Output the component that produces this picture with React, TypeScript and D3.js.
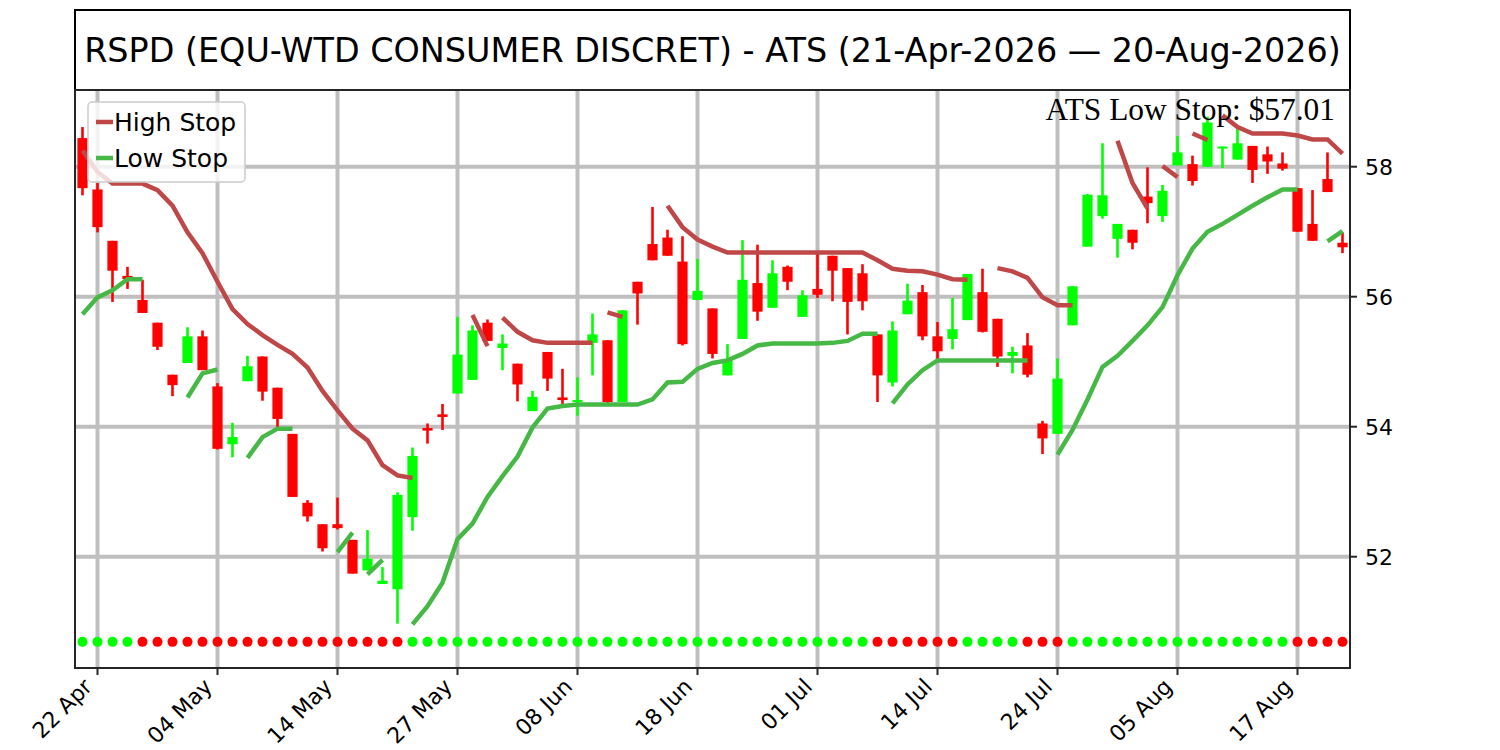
import React from 'react'
import * as d3 from 'd3'

// trading days shown on the chart
const tradingDays = [
  '2026-04-21', '2026-04-22', '2026-04-23', '2026-04-24', '2026-04-27', '2026-04-28', '2026-04-29', '2026-04-30',
  '2026-05-01', '2026-05-04', '2026-05-05', '2026-05-06', '2026-05-07', '2026-05-08', '2026-05-11', '2026-05-12',
  '2026-05-13', '2026-05-14', '2026-05-15', '2026-05-18', '2026-05-19', '2026-05-20', '2026-05-21', '2026-05-22',
  '2026-05-26', '2026-05-27', '2026-05-28', '2026-05-29', '2026-06-01', '2026-06-02', '2026-06-03', '2026-06-04',
  '2026-06-05', '2026-06-08', '2026-06-09', '2026-06-10', '2026-06-11', '2026-06-12', '2026-06-15', '2026-06-16',
  '2026-06-17', '2026-06-18', '2026-06-22', '2026-06-23', '2026-06-24', '2026-06-25', '2026-06-26', '2026-06-29',
  '2026-06-30', '2026-07-01', '2026-07-02', '2026-07-06', '2026-07-07', '2026-07-08', '2026-07-09', '2026-07-10',
  '2026-07-13', '2026-07-14', '2026-07-15', '2026-07-16', '2026-07-17', '2026-07-20', '2026-07-21', '2026-07-22',
  '2026-07-23', '2026-07-24', '2026-07-27', '2026-07-28', '2026-07-29', '2026-07-30', '2026-07-31', '2026-08-03',
  '2026-08-04', '2026-08-05', '2026-08-06', '2026-08-07', '2026-08-10', '2026-08-11', '2026-08-12', '2026-08-13',
  '2026-08-14', '2026-08-17', '2026-08-18', '2026-08-19', '2026-08-20',
]

const opens = [
  58.44, 57.65, 56.86, 56.32, 55.95, 55.60, 54.80, 54.98, 55.39, 54.62, 53.73, 54.70, 55.08, 54.60, 53.89, 52.83,
  52.50, 52.50, 52.26, 51.79, 51.58, 51.50, 52.61, 53.98, 54.19, 54.51, 54.72, 55.60, 55.21, 54.97, 54.24, 55.15,
  54.45, 54.38, 55.29, 55.33, 54.38, 56.23, 56.81, 56.91, 56.54, 55.95, 55.82, 54.79, 55.35, 56.21, 55.83, 56.46,
  55.69, 56.12, 56.63, 56.44, 56.36, 55.42, 54.68, 55.73, 56.07, 55.39, 55.35, 55.64, 56.07, 55.66, 55.09, 55.25,
  54.05, 53.89, 55.56, 56.77, 57.24, 56.89, 57.03, 57.54, 57.24, 58.02, 58.04, 58.00, 58.28, 58.11, 58.32, 58.19,
  58.05, 57.67, 57.12, 57.81, 56.83,
]
const highs = [
  58.61, 57.75, 56.86, 56.46, 56.26, 55.60, 54.80, 55.53, 55.48, 54.67, 54.06, 55.09, 55.08, 54.60, 53.89, 52.87,
  52.50, 52.91, 52.26, 52.41, 51.84, 52.99, 53.68, 54.05, 54.35, 55.69, 55.56, 55.65, 55.42, 54.97, 54.55, 55.15,
  54.89, 54.76, 55.74, 55.33, 55.79, 56.23, 57.38, 57.03, 56.93, 56.58, 55.82, 55.27, 56.87, 56.80, 56.56, 56.48,
  56.10, 56.67, 56.63, 56.44, 56.50, 55.42, 55.62, 56.20, 56.18, 55.61, 55.98, 56.35, 56.43, 55.66, 55.23, 55.44,
  54.09, 55.05, 56.16, 57.58, 58.36, 57.12, 57.03, 57.99, 57.72, 58.47, 58.17, 58.77, 58.31, 58.59, 58.32, 58.31,
  58.22, 57.67, 57.64, 58.22, 56.99,
]
const lows = [
  57.56, 56.99, 55.92, 56.12, 55.75, 55.18, 54.47, 54.98, 54.87, 53.65, 53.53, 54.70, 54.40, 53.98, 52.92, 52.54,
  52.08, 52.42, 51.74, 51.79, 51.58, 50.97, 52.40, 53.74, 53.95, 54.51, 54.72, 55.32, 54.87, 54.39, 54.24, 54.55,
  54.30, 54.17, 54.79, 54.34, 54.38, 55.57, 56.56, 56.63, 55.25, 55.95, 55.05, 54.79, 55.35, 55.63, 55.83, 56.10,
  55.69, 55.98, 55.93, 55.42, 55.79, 54.38, 54.62, 55.73, 55.33, 54.99, 55.19, 55.64, 55.45, 54.92, 54.82, 54.76,
  53.58, 53.89, 55.56, 56.77, 57.20, 56.60, 56.73, 57.13, 57.15, 58.02, 57.71, 58.00, 57.98, 58.11, 57.75, 57.89,
  57.94, 57.00, 56.86, 57.61, 56.67,
]
const closes = [
  57.67, 57.07, 56.40, 56.27, 55.75, 55.23, 54.64, 55.39, 54.87, 53.66, 53.84, 54.93, 54.54, 54.12, 52.92, 52.62,
  52.13, 52.44, 51.74, 51.97, 51.63, 52.95, 53.55, 53.94, 54.15, 55.11, 55.48, 55.32, 55.28, 54.65, 54.46, 54.74,
  54.41, 54.41, 55.42, 54.38, 55.79, 56.05, 56.56, 56.63, 55.27, 56.09, 55.12, 55.02, 56.26, 55.77, 56.36, 56.23,
  56.02, 56.03, 56.40, 55.92, 55.93, 54.79, 55.48, 55.94, 55.39, 55.16, 55.50, 56.35, 55.46, 55.08, 55.15, 54.80,
  53.82, 54.74, 56.16, 57.57, 57.56, 57.12, 56.83, 57.44, 57.63, 58.22, 57.78, 58.68, 58.31, 58.36, 57.95, 58.08,
  57.97, 57.00, 56.86, 57.61, 56.76,
]

// ATS stop segments: [first day index, values...]
const highStopSegments: [number, number[]][] = [
  [0, [58.25, 57.92, 57.74, 57.74, 57.74, 57.64, 57.40, 56.99, 56.67, 56.23, 55.81, 55.58, 55.41, 55.26, 55.12, 54.91,
    54.55, 54.25, 53.97, 53.79, 53.41, 53.25, 53.21]],
  [26, [55.72, 55.24]],
  [28, [55.68, 55.46, 55.33, 55.29, 55.29, 55.29, 55.29]],
  [35, [55.76, 55.69]],
  [39, [57.40, 57.07, 56.88, 56.77, 56.68, 56.68, 56.68, 56.68, 56.68, 56.68, 56.68, 56.68, 56.68, 56.68, 56.56, 56.43,
    56.40, 56.39, 56.34, 56.27, 56.26]],
  [61, [56.44, 56.39, 56.29, 55.99, 55.87, 55.87]],
  [69, [58.40, 57.75, 57.36]],
  [72, [58.01, 57.84]],
  [74, [58.51, 58.41]],
  [76, [58.79, 58.61, 58.51, 58.51, 58.51, 58.48, 58.42, 58.42, 58.20]],
]
const lowStopSegments: [number, number[]][] = [
  [0, [55.73, 55.99, 56.10, 56.27, 56.27]],
  [7, [54.45, 54.82, 54.88]],
  [11, [53.52, 53.84, 53.97, 53.97]],
  [17, [52.07, 52.37]],
  [19, [51.73, 51.95]],
  [22, [50.96, 51.24, 51.60, 52.27, 52.51, 52.92, 53.24, 53.54, 53.99, 54.28, 54.32, 54.34, 54.34, 54.34, 54.34, 54.34,
    54.42, 54.68, 54.69, 54.89, 54.98, 55.02, 55.12, 55.25, 55.28, 55.28, 55.28, 55.28, 55.29, 55.32, 55.43, 55.43]],
  [54, [54.36, 54.65, 54.87, 55.02, 55.02, 55.02, 55.02, 55.02, 55.02, 55.02]],
  [65, [53.57, 53.95, 54.42, 54.92, 55.09, 55.32, 55.56, 55.84, 56.33, 56.74, 57.00, 57.12, 57.26, 57.40, 57.53, 57.65,
    57.65]],
  [83, [56.85, 57.01]],
]

// trend signal per day: 1 = long (green), -1 = short (red)
const trend = [
  1, 1, 1, 1, -1, -1, -1, -1, -1, -1, -1, -1, -1, -1, -1, -1, -1, -1, -1, -1, -1, -1,
  1, 1, 1, 1, 1, 1, 1, 1, 1, 1, 1, 1, 1, 1, 1, 1, 1, 1, 1, 1, 1, 1, 1, 1, 1, 1, 1, 1, 1, 1, 1,
  -1, -1, -1, -1, -1, -1, 1, 1, 1, 1, -1, -1, -1,
  1, 1, 1, 1, 1, 1, 1, 1, 1, 1, 1, 1, 1, 1, 1, -1, -1, -1, -1,
]
const signalLevel = 50.69
const lastLowStop = 57.01
const yTicks = [52, 54, 56, 58]
const tickEvery = 8

const W = 1500
const H = 750
const left = 75
const right = 1350
const top = 90
const bottom = 668

const HIGH_COLOR = '#bf4747'
const LOW_COLOR = '#45b845'
const UP = '#00ff00'
const DOWN = '#ff0000'
const GRID = '#bfbfbf'
const SANS = 'DejaVu Sans, sans-serif'

export default function App() {
  const n = tradingDays.length
  const x = d3.scaleLinear().domain([-0.5, n - 0.5]).range([left, right])
  const y = d3.scaleLinear().domain([50.288, 59.18]).range([bottom, top])
  const parse = d3.timeParse('%Y-%m-%d')
  const fmt = d3.timeFormat('%d %b')
  const xTicks = d3.range(1, n, tickEvery)

  // one path per stop segment, gaps between segments stay open
  const segPath = (seg: [number, number[]]) =>
    d3.line<number>().x((_, k) => x(seg[0] + k)).y(v => y(v))(seg[1]) || ''

  const bodyW = x(0.34) - x(0)
  const title = 'RSPD (EQU-WTD CONSUMER DISCRET) - ATS (21-Apr-2026 \u2014 20-Aug-2026)'

  return (
    <svg width={W} height={H} style={{ position: 'absolute', left: 0, top: 0, background: '#fff' }}>
      {/* title box */}
      <rect x={left} y={10} width={right - left} height={top - 10} fill="#fff" stroke="#000" strokeWidth={2} />
      <text x={(left + right) / 2} y={61.5} textAnchor="middle" fontFamily={SANS} fontSize={33.4} fill="#000">
        {title}
      </text>

      {/* grid */}
      <g stroke={GRID} strokeWidth={4}>
        {xTicks.map(i => <line key={'gx' + i} x1={x(i)} x2={x(i)} y1={top} y2={bottom} />)}
        {yTicks.map(v => <line key={'gy' + v} x1={left} x2={right} y1={y(v)} y2={y(v)} />)}
      </g>

      {/* candles */}
      <g>
        {opens.map((o, i) => {
          const c = closes[i]
          const col = c >= o ? UP : DOWN
          const yTop = y(Math.max(o, c))
          const yBot = y(Math.min(o, c))
          return (
            <g key={'c' + i}>
              <line x1={x(i)} x2={x(i)} y1={y(highs[i])} y2={y(lows[i])} stroke={col} strokeWidth={2.6} />
              <rect x={x(i) - bodyW} y={yTop} width={bodyW * 2} height={Math.max(yBot - yTop, 1.6)} fill={col} />
            </g>
          )
        })}
      </g>

      {/* stop lines */}
      <g fill="none" strokeWidth={4.5}>
        {highStopSegments.map((s, k) => <path key={'h' + k} d={segPath(s)} stroke={HIGH_COLOR} />)}
        {lowStopSegments.map((s, k) => <path key={'l' + k} d={segPath(s)} stroke={LOW_COLOR} />)}
      </g>

      {/* trend dots */}
      <g>
        {trend.map((t, i) => (
          <circle key={'d' + i} cx={x(i)} cy={y(signalLevel)} r={5} fill={t > 0 ? UP : DOWN} />
        ))}
      </g>

      {/* frame */}
      <rect x={left} y={top} width={right - left} height={bottom - top} fill="none" stroke="#262626" strokeWidth={2} />

      {/* y axis on right */}
      <g fontFamily={SANS} fontSize={22} fill="#000">
        {yTicks.map(v => (
          <g key={'yt' + v}>
            <line x1={right} x2={right + 7} y1={y(v)} y2={y(v)} stroke="#262626" strokeWidth={2} />
            <text x={right + 15} y={y(v)} dy="0.36em">{v}</text>
          </g>
        ))}
      </g>

      {/* x axis */}
      <g fontFamily={SANS} fontSize={22} fill="#000">
        {xTicks.map(i => (
          <g key={'xt' + i}>
            <line x1={x(i)} x2={x(i)} y1={bottom} y2={bottom + 7} stroke="#262626" strokeWidth={2} />
            <text
              transform={`translate(${x(i) - 4},${bottom + 20}) rotate(-45)`}
              textAnchor="end"
            >
              {fmt(parse(tradingDays[i]) as Date)}
            </text>
          </g>
        ))}
      </g>

      {/* annotation */}
      <text x={1335} y={120} textAnchor="end" fontFamily="Liberation Serif, serif" fontSize={31.4} fill="#000">
        {`ATS Low Stop: $${lastLowStop.toFixed(2)}`}
      </text>

      {/* legend */}
      <g>
        <rect x={88} y={102} width={157} height={80} rx={4} fill="#fff" fillOpacity={0.8} stroke="#cccccc" strokeWidth={1.5} />
        <line x1={96} x2={113} y1={122} y2={122} stroke={HIGH_COLOR} strokeWidth={4.5} />
        <line x1={96} x2={113} y1={158} y2={158} stroke={LOW_COLOR} strokeWidth={4.5} />
        <text x={114} y={131} fontFamily={SANS} fontSize={25} fill="#000">High Stop</text>
        <text x={114} y={167} fontFamily={SANS} fontSize={25} fill="#000">Low Stop</text>
      </g>
    </svg>
  )
}
